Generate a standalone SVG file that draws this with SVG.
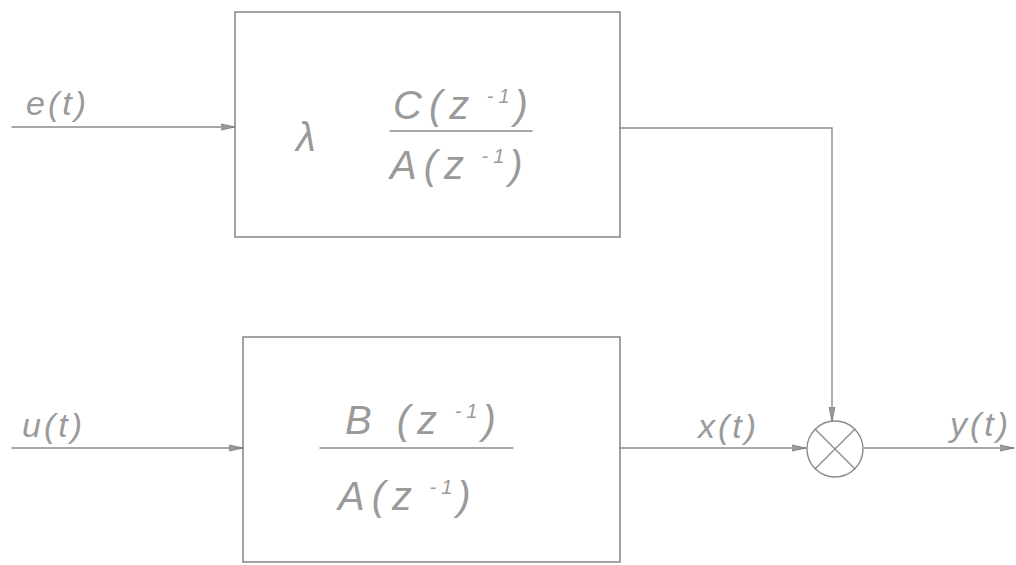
<svg xmlns="http://www.w3.org/2000/svg" width="1016" height="565" viewBox="0 0 1016 565">
<style>
.ln{fill:none;stroke:#8c8c8c;stroke-width:1.4;stroke-linecap:round}
.bx{fill:none;stroke:#8c8c8c;stroke-width:1.6}
.t{font-family:"Liberation Sans",Arial,sans-serif;font-style:italic;fill:#9a9a9a;font-weight:normal}
.big{font-size:40px;letter-spacing:7px}
.lbl{font-size:34px;letter-spacing:3px}
.sup{font-size:20px;letter-spacing:5px}
</style>
<defs>
<marker id="ar" viewBox="0 0 14 8" refX="14" refY="4" markerWidth="14" markerHeight="8" markerUnits="userSpaceOnUse" orient="auto">
<path d="M0,1 L14,4 L0,7" fill="#9a9a9a" stroke="#777" stroke-width="0.8"/>
</marker>
</defs>
<rect width="1016" height="565" fill="#ffffff"/>
<g id="connectors">
<line class="ln" x1="12" y1="127" x2="235" y2="127" marker-end="url(#ar)"/>
<line class="ln" x1="12" y1="448" x2="243" y2="448" marker-end="url(#ar)"/>
<polyline class="ln" points="620,128 832,128 832,421" marker-end="url(#ar)"/>
<line class="ln" x1="620" y1="448" x2="806" y2="448" marker-end="url(#ar)"/>
<line class="ln" x1="864" y1="448" x2="1014" y2="448" marker-end="url(#ar)"/>
</g>
<g id="label-e">
<text class="t lbl" x="26" y="115">e(t)</text>
</g>
<g id="label-u">
<text class="t lbl" x="22" y="437">u(t)</text>
</g>
<g id="label-x">
<text class="t lbl" x="698" y="438">x(t)</text>
</g>
<g id="label-y">
<text class="t lbl" x="950" y="436">y(t)</text>
</g>
<g id="block-C">
<rect class="bx" x="235" y="12" width="385" height="225"/>
<text class="t big" x="296" y="151">λ</text>
<text class="t big" x="393" y="119">C(z<tspan class="sup" dy="-16"> -1</tspan><tspan dy="16">)</tspan></text>
<line class="ln" x1="390" y1="131" x2="532" y2="131"/>
<text class="t big" x="390" y="179">A(z<tspan class="sup" dy="-16"> -1</tspan><tspan dy="16">)</tspan></text>
</g>
<g id="block-B">
<rect class="bx" x="243" y="337" width="377" height="225"/>
<text class="t big" x="345" y="434">B (z<tspan class="sup" dy="-16"> -1</tspan><tspan dy="16">)</tspan></text>
<line class="ln" x1="320" y1="448" x2="513" y2="448"/>
<text class="t big" x="338" y="510">A(z<tspan class="sup" dy="-16"> -1</tspan><tspan dy="16">)</tspan></text>
</g>
<g id="multiplier">
<circle class="ln" cx="835" cy="449" r="28"/>
<line class="ln" x1="815" y1="429" x2="855" y2="469"/>
<line class="ln" x1="855" y1="429" x2="815" y2="469"/>
</g>
</svg>
